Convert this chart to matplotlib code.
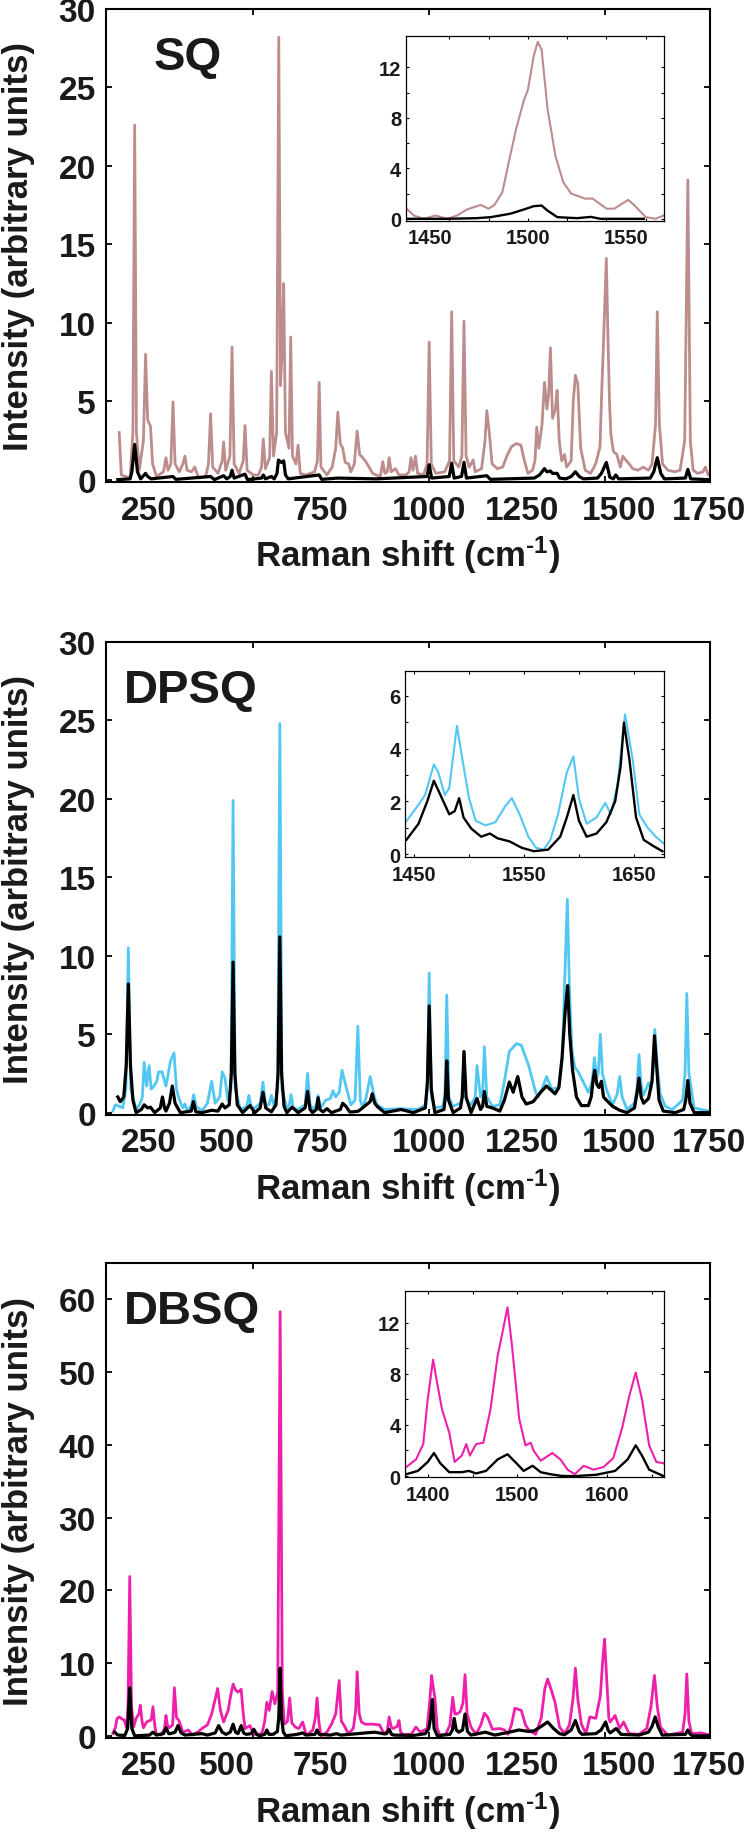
import numpy as np
import matplotlib
matplotlib.use('Agg')
import matplotlib.pyplot as plt
from matplotlib.ticker import FixedLocator, FixedFormatter, NullFormatter

plt.rcParams['font.family'] = ['Liberation Sans', 'DejaVu Sans']
plt.rcParams['font.weight'] = 'bold'
plt.rcParams['mathtext.fontset'] = 'custom'
plt.rcParams['mathtext.rm'] = 'Liberation Sans:bold'
plt.rcParams['mathtext.default'] = 'rm'

# x tick marks of the big panels, and where the (shifted) tick labels sit
main_xticks = [500, 1000, 1500]
xtick_labels = ['250', '500', '750', '1000', '1250', '1500', '1750']
xtick_label_pos = [202, 425, 693, 1002, 1266, 1540, 1797]

# ---- SQ ----
sq = [(119, 3.0), (125, 0.3), (150, 0.1), (158, 3), (163, 22.6), (168, 3), (176, 0.6), (188, 2.5),
      (194, 8.0), (200, 3.8), (208, 3.4), (214, 1.0), (225, 0.2), (245, 0.5), (252, 1.4), (258, 0.6),
      (266, 1.0), (272, 4.96), (278, 1.0), (290, 0.5), (300, 1.0), (306, 1.5), (312, 0.6), (325, 0.5),
      (334, 0.8), (345, 0.1), (365, 0.2), (373, 1.0), (379, 4.2), (385, 0.8), (400, 0.4), (412, 1.2),
      (416, 2.4), (422, 0.6), (434, 1.5), (440, 8.45), (446, 1.0), (460, 0.4), (472, 1.2), (477, 3.45),
      (483, 0.6), (500, 0.3), (515, 0.3), (524, 0.8), (529, 2.6), (535, 0.7), (547, 1.4), (552, 6.9),
      (558, 1.5), (567, 3), (573, 28.2), (578, 6), (582, 8), (587, 12.5), (592, 3), (602, 2.0),
      (607, 9.1), (612, 1.5), (622, 1.0), (628, 2.2), (634, 0.4), (650, 0.3), (675, 0.5), (683, 1.2),
      (688, 6.2), (693, 0.8), (710, 0.3), (725, 0.8), (735, 2.0), (741, 4.3), (748, 2.3), (755, 2.0),
      (762, 1.1), (772, 1.0), (778, 0.5), (788, 1.0), (796, 3.1), (803, 1.6), (812, 1.4), (822, 1.1),
      (830, 0.8), (840, 0.4), (850, 0.3), (862, 0.2), (869, 1.15), (875, 0.4), (882, 0.5), (887, 1.4),
      (893, 0.5), (905, 0.7), (915, 0.3), (935, 0.3), (944, 0.5), (949, 1.4), (955, 0.6), (962, 1.5),
      (968, 0.4), (985, 0.3), (995, 1.0), (1001, 8.77), (1007, 1.0), (1020, 0.4), (1045, 0.5),
      (1059, 1.2), (1065, 10.7), (1071, 1.2), (1085, 0.8), (1094, 1.5), (1100, 10.1), (1106, 1.5),
      (1115, 0.8), (1120, 1.0), (1126, 1.25), (1132, 0.5), (1150, 0.7), (1160, 2.5), (1165, 4.4),
      (1172, 3.0), (1180, 1.0), (1195, 0.7), (1210, 0.8), (1222, 1.5), (1235, 2.1), (1249, 2.3),
      (1262, 2.2), (1272, 1.2), (1282, 0.4), (1295, 0.6), (1302, 1.2), (1307, 3.35), (1313, 2.0),
      (1322, 3.5), (1329, 6.2), (1336, 4.5), (1341, 5.5), (1346, 8.4), (1352, 3.9), (1360, 4.5),
      (1365, 5.7), (1371, 2.5), (1378, 1.2), (1386, 1.6), (1392, 0.8), (1405, 1.2), (1411, 5.0),
      (1417, 6.65), (1424, 6.1), (1432, 2.0), (1445, 0.6), (1460, 0.4), (1469, 0.74), (1476, 1.1),
      (1487, 2.1), (1491, 5.0), (1498, 9.4), (1505, 14.1), (1510, 8.7), (1514, 5.0), (1518, 2.9),
      (1525, 1.8), (1535, 1.6), (1545, 0.8), (1552, 1.5), (1562, 1.2), (1572, 0.95), (1580, 0.7),
      (1595, 0.6), (1610, 0.8), (1625, 0.6), (1635, 1.0), (1645, 3.5), (1650, 10.7), (1656, 3.5),
      (1665, 1.0), (1680, 0.6), (1700, 0.5), (1715, 0.6), (1728, 2.5), (1737, 19.1), (1744, 2.5),
      (1752, 0.6), (1765, 0.4), (1780, 0.5), (1787, 0.8), (1795, 0.3)]
sq_blk = [(115, 0.0), (150, 0.05), (155, 0.5), (163, 2.25), (171, 0.5), (180, 0.05), (190, 0.3),
          (194, 0.4), (200, 0.2), (210, 0.05), (272, 0.2), (280, 0.02), (379, 0.2), (390, 0.0),
          (416, 0.25), (425, 0.05), (435, 0.2), (440, 0.6), (446, 0.1), (477, 0.35), (484, 0.0),
          (524, 0.1), (529, 0.3), (535, 0.05), (552, 0.2), (560, 0.05), (568, 0.4), (572, 1.25),
          (580, 1.1), (587, 1.2), (592, 0.3), (600, 0.05), (688, 0.3), (695, 0.02), (741, 0.1),
          (850, 0.05), (995, 0.2), (1001, 0.95), (1008, 0.1), (1058, 0.2), (1065, 1.05), (1072, 0.1),
          (1093, 0.2), (1100, 1.1), (1107, 0.1), (1165, 0.25), (1175, 0.02), (1300, 0.1), (1315, 0.3),
          (1329, 0.7), (1336, 0.5), (1346, 0.55), (1352, 0.4), (1365, 0.4), (1372, 0.1), (1390, 0.05),
          (1405, 0.2), (1417, 0.5), (1428, 0.2), (1440, 0.05), (1480, 0.1), (1491, 0.4), (1498, 0.74),
          (1505, 1.1), (1510, 0.65), (1515, 0.15), (1525, 0.05), (1532, 0.3), (1540, 0.05), (1630, 0.1),
          (1640, 0.5), (1650, 1.4), (1660, 0.4), (1670, 0.05), (1730, 0.1), (1737, 0.65), (1745, 0.05),
          (1795, 0.0)]
sq_inset = [(1438, 0.84), (1442, 0.26), (1447, 0.0), (1453, 0.26), (1459, 0.0), (1464, 0.26),
            (1469, 0.74), (1476, 1.1), (1480, 0.8), (1483, 1.1), (1487, 2.1), (1491, 5.0), (1494, 7.1),
            (1498, 9.4), (1500, 10.2), (1503, 12.9), (1505, 14.0), (1507, 13.4), (1510, 8.7),
            (1514, 5.0), (1518, 2.9), (1522, 2.0), (1529, 1.6), (1533, 1.6), (1540, 0.8), (1544, 0.8),
            (1551, 1.5), (1554, 1.1), (1560, 0.13), (1565, 0.0), (1569, 0.26)]
sq_inset_blk = [(1438, 0.0), (1459, 0.0), (1474, 0.05), (1481, 0.13), (1491, 0.4), (1498, 0.74),
                (1503, 1.0), (1507, 1.05), (1510, 0.65), (1515, 0.13), (1525, 0.05), (1532, 0.15),
                (1537, 0.0), (1559, 0.0)]

# ---- DPSQ ----
dpsq = [(101, 0.1), (108, 0.5), (120, 0.4), (129, 0.3), (138, 1.5), (145, 10.5), (152, 1.5), (167, 0.2),
        (177, 0.5), (185, 1.0), (190, 3.2), (197, 1.7), (204, 3.0), (210, 1.5), (218, 1.7), (226, 2.0),
        (231, 2.6), (241, 2.6), (252, 1.7), (265, 3.3), (275, 3.8), (282, 1.5), (289, 0.9), (300, 0.3),
        (306, 0.55), (313, 0.1), (325, 0.5), (331, 1.15), (338, 0.4), (354, 0.1), (370, 0.6), (382, 2.0),
        (392, 0.6), (405, 1.0), (412, 2.6), (420, 2.2), (428, 0.8), (437, 1.5), (443, 19.9), (449, 1.5),
        (464, 0.2), (482, 0.4), (488, 1.1), (495, 0.3), (505, 0.3), (520, 0.6), (528, 1.95), (535, 0.5),
        (545, 0.5), (552, 1.1), (560, 0.4), (570, 1.5), (576, 24.8), (582, 1.5), (596, 0.3), (603, 0.5),
        (608, 1.15), (614, 0.3), (628, 0.2), (648, 0.5), (655, 2.5), (662, 0.5), (671, 0.2), (680, 0.5),
        (685, 1.1), (692, 0.3), (707, 0.8), (720, 0.9), (727, 1.4), (735, 1.0), (745, 1.3), (753, 2.7),
        (764, 1.7), (778, 0.5), (790, 0.8), (798, 5.5), (805, 0.8), (812, 0.3), (822, 1.0), (833, 2.3),
        (845, 1.0), (853, 0.5), (874, 0.2), (915, 0.25), (969, 0.2), (990, 0.5), (996, 1.5), (1001, 8.9),
        (1007, 1.0), (1017, 0.3), (1040, 0.4), (1046, 1.2), (1051, 7.5), (1057, 1.0), (1068, 0.4),
        (1090, 0.6), (1095, 1.0), (1100, 3.9), (1106, 0.8), (1120, 0.5), (1132, 1.0), (1137, 3.0),
        (1147, 1.0), (1153, 1.2), (1158, 4.2), (1165, 1.0), (1181, 0.4), (1202, 0.5), (1215, 2.0),
        (1229, 3.9), (1249, 4.4), (1263, 4.3), (1284, 3.0), (1304, 1.3), (1311, 1.0), (1322, 1.5),
        (1335, 2.3), (1350, 1.5), (1370, 1.6), (1380, 3.5), (1386, 8.0), (1394, 13.6), (1400, 8.0),
        (1407, 4.0), (1415, 2.9), (1425, 2.6), (1434, 2.2), (1454, 1.3), (1465, 2.0), (1471, 3.5),
        (1477, 2.2), (1482, 2.5), (1488, 5.0), (1494, 2.5), (1505, 1.5), (1523, 0.5), (1536, 1.2),
        (1543, 2.3), (1550, 1.0), (1564, 0.2), (1585, 0.6), (1592, 1.5), (1598, 3.7), (1604, 1.8),
        (1610, 1.1), (1618, 1.5), (1625, 1.9), (1632, 1.5), (1638, 2.5), (1643, 5.3), (1650, 3.0),
        (1658, 1.2), (1673, 0.4), (1693, 0.2), (1722, 0.8), (1729, 2.5), (1734, 7.6), (1740, 2.5),
        (1755, 0.3), (1775, 0.2), (1800, 0.1)]
dpsq_blk = [(115, 1.0), (122, 0.7), (132, 1.0), (139, 3.0), (145, 8.2), (151, 3.0), (158, 0.8), (167, 0.0),
            (182, 0.2), (190, 0.5), (200, 0.3), (208, 0.35), (220, 0.0), (236, 0.3), (242, 1.0), (248, 0.3),
            (252, 0.1), (262, 0.6), (270, 1.7), (278, 0.6), (293, 0.0), (324, 0.1), (330, 0.7), (337, 0.05),
            (354, 0.0), (382, 0.15), (400, 0.1), (412, 0.55), (420, 0.3), (432, 0.5), (438, 2.5), (443, 9.6),
            (448, 2.5), (455, 0.5), (470, 0.0), (491, 0.45), (505, 0.0), (520, 0.3), (528, 1.3), (536, 0.3),
            (552, 0.05), (565, 0.5), (571, 2.5), (576, 11.2), (581, 2.5), (588, 0.4), (596, 0.0),
            (611, 0.35), (628, 0.0), (648, 0.3), (655, 1.35), (662, 0.2), (669, 0.0), (680, 0.2),
            (685, 0.95), (690, 0.2), (699, 0.05), (710, 0.25), (723, 0.0), (748, 0.2), (755, 0.6),
            (764, 0.4), (775, 0.05), (785, 0.05), (800, 0.1), (819, 0.45), (833, 0.7), (839, 1.2),
            (846, 0.6), (853, 0.4), (874, 0.0), (921, 0.2), (956, 0.0), (990, 0.3), (996, 2.0), (1001, 6.8),
            (1007, 1.5), (1017, 0.0), (1043, 0.2), (1047, 1.0), (1051, 3.3), (1056, 0.8), (1069, 0.0),
            (1090, 0.3), (1095, 1.0), (1100, 3.9), (1106, 1.0), (1120, 0.0), (1137, 0.9), (1147, 0.2),
            (1153, 0.4), (1158, 1.35), (1165, 0.4), (1181, 0.3), (1202, 0.1), (1215, 0.8), (1229, 1.95),
            (1240, 1.3), (1253, 2.3), (1265, 1.0), (1277, 0.55), (1297, 0.7), (1318, 1.3), (1335, 1.7),
            (1359, 1.2), (1370, 1.6), (1379, 3.5), (1388, 6.5), (1395, 8.1), (1401, 5.0), (1409, 2.7),
            (1420, 1.0), (1434, 0.45), (1454, 0.45), (1462, 1.0), (1468, 2.2), (1472, 2.7), (1478, 1.8),
            (1484, 1.6), (1491, 2.0), (1497, 1.0), (1505, 0.8), (1523, 0.4), (1543, 0.15), (1564, 0.0),
            (1585, 0.3), (1592, 1.2), (1598, 2.2), (1604, 1.0), (1611, 0.6), (1625, 0.9), (1635, 2.0),
            (1642, 4.9), (1648, 3.0), (1655, 0.8), (1667, 0.1), (1701, 0.0), (1725, 0.2), (1731, 0.8),
            (1737, 2.05), (1743, 0.6), (1755, 0.0), (1800, 0.0)]
dpsq_inset = [(1443, 1.25), (1454, 1.87), (1460, 2.24), (1468, 3.4), (1472, 3.1), (1478, 2.24), (1482, 2.5),
              (1489, 4.86), (1494, 3.58), (1500, 2.12), (1506, 1.27), (1515, 1.09), (1524, 1.21),
              (1533, 1.82), (1539, 2.12), (1546, 1.51), (1554, 0.66), (1561, 0.24), (1568, 0.17),
              (1574, 0.54), (1581, 1.51), (1589, 3.1), (1595, 3.7), (1600, 2.12), (1607, 1.15),
              (1616, 1.39), (1624, 1.94), (1629, 1.51), (1635, 2.6), (1642, 5.3), (1649, 3.58),
              (1655, 1.51), (1662, 1.03), (1670, 0.66), (1677, 0.41)]
dpsq_inset_blk = [(1443, 0.54), (1454, 1.15), (1462, 2.0), (1468, 2.78), (1474, 2.24), (1482, 1.51),
                  (1487, 1.63), (1491, 2.12), (1495, 1.39), (1502, 0.97), (1511, 0.66), (1519, 0.78),
                  (1526, 0.6), (1537, 0.48), (1548, 0.24), (1559, 0.11), (1572, 0.17), (1583, 0.66),
                  (1589, 1.39), (1595, 2.24), (1600, 1.27), (1607, 0.66), (1616, 0.78), (1625, 1.21),
                  (1633, 2.0), (1638, 3.33), (1641, 4.98), (1646, 3.58), (1652, 1.39), (1659, 0.54),
                  (1668, 0.3), (1676, 0.11)]

# ---- DBSQ ----
dbsq = [(101, 0.3), (108, 1.1), (113, 2.4), (119, 2.6), (127, 2.3), (133, 2.2), (140, 1.1), (144, 4),
        (149, 21.9), (154, 4), (160, 1.2), (167, 2.4), (175, 3.0), (179, 4.2), (184, 2.0), (188, 1.1),
        (197, 1.9), (210, 2.2), (215, 4.0), (220, 1.5), (224, 0.3), (238, 0.1), (248, 1.0), (252, 2.8),
        (256, 1.5), (261, 1.1), (271, 1.5), (276, 6.6), (282, 2.5), (289, 2.1), (300, 0.5), (316, 0.8),
        (327, 0.1), (345, 0.6), (354, 1.0), (370, 1.5), (382, 3.0), (392, 5.0), (399, 6.5), (407, 3.5),
        (416, 1.9), (429, 3.5), (436, 5.5), (443, 7.1), (450, 6.3), (457, 6.0), (466, 6.4), (472, 3.0),
        (477, 1.0), (491, 1.4), (498, 0.6), (505, 0.2), (525, 0.3), (533, 2.0), (539, 4.6), (546, 3.5),
        (554, 6.1), (562, 4.4), (570, 6), (577, 58.3), (583, 6), (589, 1.6), (598, 2.0), (604, 5.2),
        (610, 1.8), (620, 1.2), (630, 1.0), (641, 1.9), (650, 0.3), (655, 0.2), (670, 0.8), (677, 2.5),
        (682, 5.2), (687, 2.0), (693, 0.0), (710, 0.5), (723, 1.6), (735, 3.0), (745, 7.6), (751, 2.0),
        (757, 1.6), (771, 0.3), (785, 1.0), (792, 3.5), (796, 8.8), (802, 3.0), (808, 1.9), (819, 1.6),
        (840, 1.6), (860, 1.5), (867, 0.8), (874, 0.2), (882, 0.8), (887, 2.6), (893, 1.2), (898, 1.0),
        (910, 1.3), (915, 2.1), (920, 0.5), (926, 0.2), (950, 0.2), (963, 1.2), (976, 0.5), (995, 1.0),
        (1003, 5.0), (1008, 8.3), (1013, 6.5), (1017, 5.3), (1024, 1.0), (1031, 0.1), (1048, 0.2),
        (1060, 1.5), (1068, 5.3), (1074, 3.0), (1079, 3.0), (1089, 3.3), (1097, 4.5), (1103, 8.4),
        (1109, 3.0), (1120, 1.2), (1134, 0.2), (1148, 1.5), (1158, 3.1), (1167, 2.6), (1181, 0.9),
        (1202, 1.0), (1215, 0.8), (1225, 0.2), (1235, 1.5), (1245, 3.8), (1263, 3.5), (1275, 1.5),
        (1284, 0.8), (1304, 0.2), (1320, 2.5), (1330, 6.5), (1338, 7.8), (1349, 6.2), (1359, 4.6),
        (1372, 1.2), (1386, 0.3), (1400, 1.5), (1410, 5), (1417, 9.3), (1424, 5.0), (1434, 1.6),
        (1447, 0.3), (1458, 2.6), (1475, 2.4), (1488, 5.5), (1495, 10.5), (1500, 13.3), (1506, 8),
        (1512, 2.5), (1516, 1.9), (1530, 2.8), (1543, 1.0), (1554, 1.9), (1570, 0.3), (1598, 0.2),
        (1620, 1.0), (1632, 4.0), (1642, 8.3), (1650, 4.0), (1659, 1.2), (1680, 0.1), (1722, 0.5),
        (1729, 3.0), (1734, 8.5), (1740, 2.0), (1748, 0.3), (1775, 0.4), (1800, 0.1)]
dbsq_blk = [(106, 0.5), (115, 0.1), (135, 0.05), (143, 1.0), (149, 6.6), (155, 1.0), (163, 0.0), (205, 0.1),
            (215, 0.5), (225, 0.1), (245, 0.3), (252, 1.1), (260, 0.3), (265, 0.3), (278, 0.5), (286, 1.4),
            (295, 0.4), (306, 0.1), (354, 0.3), (370, 0.1), (392, 0.4), (402, 1.4), (412, 0.5), (423, 0.2),
            (435, 0.5), (443, 1.6), (450, 0.5), (457, 0.3), (466, 1.4), (473, 0.4), (480, 0.2), (495, 0.3),
            (502, 0.9), (510, 0.2), (518, 0.0), (533, 0.2), (539, 0.8), (545, 0.2), (557, 0.2), (569, 0.6),
            (573, 2.5), (577, 9.3), (581, 2.5), (586, 0.5), (593, 0.0), (625, 0.2), (641, 0.4), (650, 0.1),
            (676, 0.2), (682, 0.8), (688, 0.2), (720, 0.1), (737, 0.3), (750, 0.1), (798, 0.3), (820, 0.4),
            (846, 0.5), (870, 0.3), (880, 0.3), (887, 0.9), (894, 0.2), (901, 0.1), (956, 0.05), (990, 0.3),
            (1000, 1.0), (1005, 2.5), (1010, 5.0), (1015, 1.0), (1024, 0.0), (1060, 0.2), (1067, 0.8),
            (1072, 2.4), (1078, 0.8), (1085, 0.5), (1096, 0.8), (1103, 3.0), (1110, 0.6), (1120, 0.1),
            (1161, 0.5), (1188, 0.1), (1229, 0.5), (1256, 0.8), (1284, 0.6), (1300, 0.7), (1320, 1.3),
            (1338, 1.9), (1355, 1.0), (1372, 0.3), (1386, 0.15), (1405, 0.8), (1417, 2.1), (1428, 0.6),
            (1436, 0.2), (1475, 0.3), (1490, 0.8), (1503, 1.9), (1510, 0.8), (1516, 0.4), (1533, 1.0),
            (1547, 0.2), (1598, 0.1), (1625, 0.5), (1635, 1.3), (1644, 2.6), (1652, 1.3), (1664, 0.1),
            (1730, 0.2), (1737, 0.8), (1744, 0.2), (1751, 0.0), (1800, 0.0)]
dbsq_inset = [(1376, 0.7), (1387, 1.3), (1395, 2.5), (1400, 6.0), (1406, 9.1), (1411, 7.1), (1416, 5.2),
              (1424, 3.4), (1430, 1.1), (1438, 1.6), (1443, 2.5), (1447, 1.6), (1454, 2.5), (1462, 2.6),
              (1470, 5.2), (1478, 9.4), (1483, 11.1), (1489, 13.2), (1494, 10.2), (1502, 4.5),
              (1509, 2.4), (1515, 2.6), (1518, 2.0), (1526, 1.2), (1539, 1.8), (1548, 1.3), (1556, 0.5),
              (1564, 0.14), (1574, 0.8), (1585, 0.5), (1596, 0.7), (1607, 1.4), (1617, 3.8), (1625, 6.3),
              (1632, 8.1), (1639, 6.0), (1647, 2.4), (1655, 1.1), (1663, 1.0)]
dbsq_inset_blk = [(1376, 0.14), (1389, 0.4), (1400, 1.1), (1407, 1.8), (1414, 1.0), (1424, 0.3), (1438, 0.3),
                  (1446, 0.4), (1454, 0.2), (1465, 0.4), (1478, 1.3), (1489, 1.7), (1499, 1.0), (1507, 0.4),
                  (1517, 0.8), (1526, 0.3), (1537, 0.14), (1550, 0.0), (1566, 0.0), (1588, 0.1), (1609, 0.4),
                  (1623, 1.3), (1632, 2.4), (1639, 1.6), (1647, 0.5), (1663, 0.0)]

W, H = 750.0, 1833.0


def frac_rect(x0, y0, x1, y1):
    # pixel box (top-left origin) -> figure fraction rect
    return [x0 / W, 1 - y1 / H, (x1 - x0) / W, (y1 - y0) / H]


panels = [
    dict(name='SQ', color='#bd8c8c', data=sq, blk=sq_blk, ins=sq_inset, ins_blk=sq_inset_blk,
         box=(105.5, 10, 710, 483), ylim=(-0.15, 30), ystep=5, title_x=0.080,
         ibox=(406, 36.7, 663.5, 221.7), ixlim=(1438, 1569), iylim=(-0.15, 14.5),
         ixmaj=[1450, 1500, 1550], ixmin=[1460, 1480, 1500, 1520, 1540, 1560], ix_label_on_minor=True,
         iymaj=[0, 4, 8, 12], iymin=[2, 6, 10]),
    dict(name='DPSQ', color='#52c7f2', data=dpsq, blk=dpsq_blk, ins=dpsq_inset, ins_blk=dpsq_inset_blk,
         box=(105.5, 643, 710, 1116), ylim=(-0.15, 30), ystep=5, title_x=0.031,
         ibox=(405.3, 671.7, 663.5, 858.3), ixlim=(1442, 1677), iylim=(-0.12, 6.95),
         ixmaj=[1450, 1550, 1650], ixmin=[1500, 1600], ix_label_on_minor=False,
         iymaj=[0, 2, 4, 6], iymin=[1, 3, 5]),
    dict(name='DBSQ', color='#ee1fab', data=dbsq, blk=dbsq_blk, ins=dbsq_inset, ins_blk=dbsq_inset_blk,
         box=(105.5, 1264, 710, 1739), ylim=(-0.3, 65), ystep=10, title_x=0.031,
         ibox=(405.3, 1291.7, 663.5, 1478.3), ixlim=(1375, 1663), iylim=(-0.1, 14.5),
         ixmaj=[1400, 1500, 1600], ixmin=[1450, 1550, 1650], ix_label_on_minor=False,
         iymaj=[0, 4, 8, 12], iymin=[2, 6, 10]),
]

fig = plt.figure(figsize=(W / 100, H / 100), dpi=100)
ink = '#1a1a1a'

for p in panels:
    ax = fig.add_axes(frac_rect(*p['box']))
    x, y = zip(*p['data'])
    ax.plot(x, y, color=p['color'], lw=2.0, solid_joinstyle='round')
    x, y = zip(*p['blk'])
    ax.plot(x, y, color='black', lw=2.3, solid_joinstyle='round')
    ax.set_xlim(80, 1800)
    ax.set_ylim(*p['ylim'])
    ax.xaxis.remove_overlapping_locs = False
    ax.xaxis.set_major_locator(FixedLocator(main_xticks))
    ax.xaxis.set_major_formatter(NullFormatter())
    ax.xaxis.set_minor_locator(FixedLocator(xtick_label_pos))
    ax.xaxis.set_minor_formatter(FixedFormatter(xtick_labels))
    ax.set_yticks(np.arange(0, p['ylim'][1] + 0.01, p['ystep']))
    ax.tick_params(which='both', direction='in', top=True, right=True, colors='black', labelcolor=ink)
    ax.tick_params(which='major', length=4.5, width=1.3, labelsize=24, pad=7)
    ax.tick_params(axis='x', which='minor', length=0, labelsize=24, pad=9)
    for s in ax.spines.values():
        s.set_linewidth(1.5)
    ax.text(p['title_x'], 0.873, p['name'], transform=ax.transAxes, fontsize=34,
            fontweight='bold', ha='left', va='baseline', color=ink)

    x0, y0, x1, y1 = p['box']
    fig.text(19 / W, 1 - (y0 + y1) / 2 / H, 'Intensity (arbitrary units)', rotation=90,
             ha='center', va='center', fontsize=25, fontweight='bold', color=ink)
    fig.text((x0 + x1) / 2 / W, 1 - (y1 + 84) / H, r'Raman shift (cm$^{\text{-}1}$)',
             ha='center', va='baseline', fontsize=25, fontweight='bold', color=ink)

    # inset zoom on the high-wavenumber region
    ia = fig.add_axes(frac_rect(*p['ibox']))
    x, y = zip(*p['ins'])
    ia.plot(x, y, color=p['color'], lw=1.5)
    x, y = zip(*p['ins_blk'])
    ia.plot(x, y, color='black', lw=1.7)
    ia.set_xlim(*p['ixlim'])
    ia.set_ylim(*p['iylim'])
    ia.xaxis.remove_overlapping_locs = False
    ia.xaxis.set_major_locator(FixedLocator(p['ixmaj']))
    ia.xaxis.set_minor_locator(FixedLocator(p['ixmin']))
    if p['ix_label_on_minor']:
        # labelled positions carry no tick mark, marks every 20
        ia.tick_params(axis='x', which='major', length=0)
        ia.tick_params(axis='x', which='minor', length=2.3, width=0.8)
    else:
        ia.tick_params(axis='x', which='both', length=2.3, width=0.8)
    ia.set_yticks(p['iymaj'])
    ia.yaxis.set_minor_locator(FixedLocator(p['iymin']))
    ia.tick_params(axis='y', which='both', length=2.3, width=0.8)
    ia.tick_params(which='both', direction='in', top=True, right=True, labelcolor=ink)
    ia.tick_params(axis='x', labelsize=14.5, pad=5.5)
    ia.tick_params(axis='y', labelsize=14.5, pad=3.5)
    for s in ia.spines.values():
        s.set_linewidth(0.9)

fig.savefig('out.png', dpi=100)
